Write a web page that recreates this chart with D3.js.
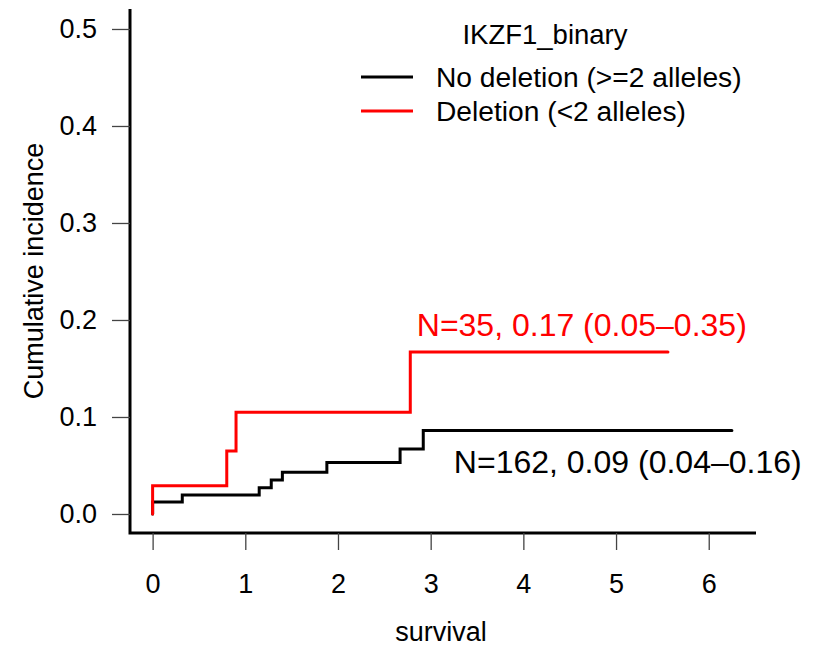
<!DOCTYPE html>
<html>
<head>
<meta charset="utf-8">
<script src="https://cdn.jsdelivr.net/npm/d3@7"></script>
<style>
  body { margin: 0; background: #fff; }
  text { font-family: "Liberation Sans", Arial, sans-serif; }
</style>
</head>
<body>
<div class="chart"></div>
<script>
// step times and cumulative incidence
var noDelTimes  = [0, 0, 0.32, 1.15, 1.28, 1.40, 1.88, 2.67, 2.92, 6.25];
var noDelValues = [0, 0.0124, 0.0196, 0.027, 0.035, 0.043, 0.053, 0.067, 0.086, 0.086];
var delTimes    = [0, 0, 0.80, 0.90, 2.78, 5.56];
var delValues   = [0, 0.029, 0.065, 0.105, 0.167, 0.167];

var xTicks = [0, 1, 2, 3, 4, 5, 6];
var yTicks = [0, 0.1, 0.2, 0.3, 0.4, 0.5];
var legendTitle = "IKZF1_binary";
var legendLabels = ["No deletion (>=2 alleles)", "Deletion (<2 alleles)"];
var seriesColors = ["#000000", "#ff0000"];
var annoText = ["N=162, 0.09 (0.04\u20130.16)", "N=35, 0.17 (0.05\u20130.35)"];
var annoAt = [[3.25, 0.042], [2.85, 0.184]];  // data coordinates for the left edge / baseline

var width = 816, height = 647;
var plot = {left: 130, right: 756, top: 9, bottom: 533};

var svg = d3.select(".chart").append("svg")
    .attr("width", width)
    .attr("height", height);

var x = d3.scaleLinear()
    .domain([-0.244, 6.51])
    .range([plot.left, plot.right]);
var y = d3.scaleLinear()
    .domain([-0.0196, 0.5206])
    .range([plot.bottom, plot.top]);

// L shaped box
svg.append("path")
    .attr("d", "M" + plot.left + "," + plot.top + "V" + plot.bottom + "H" + plot.right)
    .attr("fill", "none")
    .attr("stroke", "#000")
    .attr("stroke-width", 3);

// y axis
var yAxis = svg.append("g")
    .attr("transform", "translate(" + plot.left + ",0)")
    .call(d3.axisLeft(y).tickValues(yTicks).tickSize(18).tickPadding(15)
      .tickFormat(d3.format(".1f")));
yAxis.select(".domain").remove();
yAxis.selectAll("line").attr("stroke", "#444").attr("stroke-width", 1.3);
yAxis.selectAll("text").attr("font-size", 27).attr("fill", "#000")
    .attr("font-family", "Liberation Sans, Arial, sans-serif");

// x axis
var xAxis = svg.append("g")
    .attr("transform", "translate(0," + plot.bottom + ")")
    .call(d3.axisBottom(x).tickValues(xTicks).tickSize(17).tickPadding(24)
      .tickFormat(d3.format("d")));
xAxis.select(".domain").remove();
xAxis.selectAll("line").attr("stroke", "#444").attr("stroke-width", 1.3);
xAxis.selectAll("text").attr("font-size", 27).attr("fill", "#000")
    .attr("font-family", "Liberation Sans, Arial, sans-serif");

// axis titles
svg.append("text")
    .attr("x", 441).attr("y", 641)
    .attr("text-anchor", "middle")
    .attr("font-size", 27)
    .text("survival");
svg.append("text")
    .attr("transform", "translate(43,271) rotate(-90)")
    .attr("text-anchor", "middle")
    .attr("font-size", 27)
    .text("Cumulative incidence");

// curves
var line = d3.line()
    .x(function(d) { return x(d[0]); })
    .y(function(d) { return y(d[1]); })
    .curve(d3.curveStepAfter);

var series = [
  d3.zip(noDelTimes, noDelValues),
  d3.zip(delTimes, delValues)
];

svg.selectAll(".curve")
    .data(series)
    .enter()
    .append("path")
      .attr("class", "curve")
      .attr("d", line)
      .attr("fill", "none")
      .attr("stroke", function(d, i) { return seriesColors[i]; })
      .attr("stroke-width", 3)
      .attr("stroke-linecap", "round");

// annotations
svg.selectAll(".anno")
    .data(annoText)
    .enter()
    .append("text")
      .attr("class", "anno")
      .attr("x", function(d, i) { return x(annoAt[i][0]); })
      .attr("y", function(d, i) { return y(annoAt[i][1]); })
      .attr("font-size", 32)
      .attr("fill", function(d, i) { return seriesColors[i]; })
      .text(function(d) { return d; });

// legend
var legend = svg.append("g");
legend.append("text")
    .attr("x", 545).attr("y", 44)
    .attr("text-anchor", "middle")
    .attr("font-size", 27.5)
    .text(legendTitle);

var items = legend.selectAll(".item")
    .data(legendLabels)
    .enter()
    .append("g")
      .attr("class", "item")
      .attr("transform", function(d, i) { return "translate(0," + (77 + i * 34) + ")"; });
items.append("line")
    .attr("x1", 361).attr("x2", 413)
    .attr("stroke", function(d, i) { return seriesColors[i]; })
    .attr("stroke-width", 3);
items.append("text")
    .attr("x", 436).attr("y", 10)
    .attr("font-size", 28.2)
    .text(function(d) { return d; });
</script>
</body>
</html>
